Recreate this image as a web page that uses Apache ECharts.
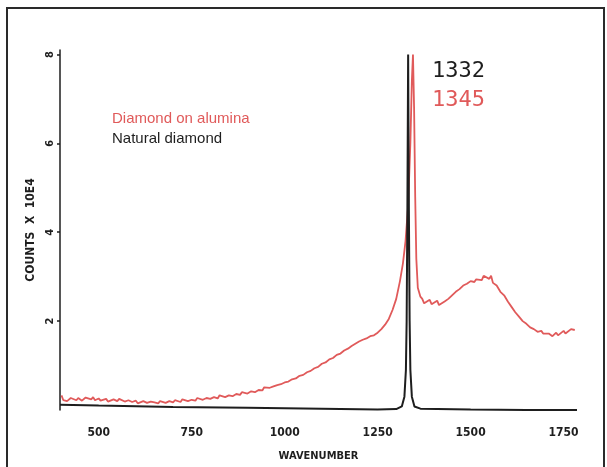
<!DOCTYPE html>
<html>
<head>
<meta charset="utf-8">
<script src="https://cdn.jsdelivr.net/npm/echarts@6/dist/echarts.min.js"></script>
<style>
  html, body { margin: 0; padding: 0; background: #ffffff; }
  #chart { width: 607px; height: 467px; }
</style>
</head>
<body>
<div id="chart"></div>
<script>
// Raman spectra: wavenumber (cm^-1) vs counts (x 1e4)
const seriesNames = ['Diamond on alumina', 'Natural diamond'];
const xTicks = [500, 750, 1000, 1250, 1500, 1750];
const yTicks = [2, 4, 6, 8];
const peakNatural = 1332;
const peakAlumina = 1345;

// Diamond film grown on alumina: broad background, sharp line, G-band hump
const aluminaSpectrum = [
  [400, 0.33], [405, 0.22], [410, 0.24], [415, 0.20], [420, 0.21], [425, 0.27], [430, 0.25], [440, 0.22], [445, 0.27], [450, 0.26],
  [455, 0.21], [460, 0.23], [465, 0.28], [470, 0.27], [480, 0.24], [485, 0.29], [490, 0.22], [500, 0.26], [505, 0.21], [510, 0.23],
  [520, 0.25], [525, 0.19], [530, 0.21], [540, 0.24], [550, 0.20], [555, 0.25], [560, 0.23], [570, 0.19],
  [580, 0.22], [590, 0.18], [600, 0.21], [605, 0.15], [610, 0.17], [620, 0.20], [630, 0.16],
  [640, 0.19], [650, 0.17], [660, 0.15], [665, 0.20], [670, 0.19], [680, 0.16], [690, 0.20],
  [700, 0.17], [705, 0.22], [710, 0.21], [720, 0.18], [725, 0.24], [730, 0.22], [740, 0.20], [750, 0.23],
  [760, 0.21], [765, 0.27], [770, 0.25], [780, 0.23], [790, 0.27], [795, 0.23], [800, 0.25], [810, 0.29],
  [820, 0.26], [825, 0.33], [830, 0.31], [840, 0.29], [850, 0.33], [855, 0.29], [860, 0.31], [870, 0.36],
  [880, 0.34], [885, 0.40], [890, 0.39], [900, 0.37], [910, 0.42], [915, 0.38], [920, 0.40], [930, 0.45],
  [940, 0.44], [945, 0.51], [950, 0.49], [960, 0.50], [970, 0.53], [975, 0.50], [980, 0.56], [990, 0.58],
  [1000, 0.62], [1005, 0.59], [1010, 0.64], [1020, 0.69], [1030, 0.71], [1035, 0.68], [1040, 0.77], [1050, 0.79],
  [1060, 0.85], [1065, 0.82], [1070, 0.88], [1080, 0.94], [1090, 0.97], [1095, 0.94], [1100, 1.04], [1110, 1.07],
  [1120, 1.14], [1125, 1.10], [1130, 1.17], [1140, 1.24], [1150, 1.27], [1155, 1.23], [1160, 1.34], [1170, 1.38],
  [1180, 1.44], [1185, 1.40], [1190, 1.49], [1200, 1.54], [1210, 1.58], [1215, 1.55], [1220, 1.61], [1230, 1.66],
  [1240, 1.68], [1245, 1.66], [1250, 1.74], [1260, 1.82], [1270, 1.92], [1280, 2.05], [1290, 2.25],
  [1300, 2.50], [1310, 2.90], [1318, 3.30], [1325, 3.80], [1332, 4.60], [1338, 6.00],
  [1342, 7.40], [1345, 8.00], [1348, 6.80], [1351, 4.80], [1354, 3.40], [1358, 2.75],
  [1365, 2.55], [1370, 2.50], [1375, 2.40], [1380, 2.42], [1390, 2.48], [1395, 2.38], [1400, 2.40], [1410, 2.46],
  [1415, 2.36], [1420, 2.38], [1430, 2.44], [1435, 2.40], [1440, 2.50], [1450, 2.58], [1455, 2.54], [1460, 2.66], [1470, 2.72],
  [1475, 2.68], [1480, 2.80], [1490, 2.84], [1495, 2.80], [1500, 2.90], [1510, 2.88], [1515, 2.94], [1520, 2.96], [1530, 2.92],
  [1535, 3.02], [1540, 3.00], [1550, 2.95], [1555, 3.02], [1560, 2.86], [1570, 2.80], [1575, 2.84], [1580, 2.66], [1590, 2.58],
  [1595, 2.54], [1600, 2.44], [1610, 2.32], [1615, 2.34], [1620, 2.20], [1630, 2.10], [1635, 2.12], [1640, 2.00], [1650, 1.94],
  [1655, 1.96], [1660, 1.86], [1670, 1.82], [1675, 1.85], [1680, 1.76], [1690, 1.78], [1695, 1.72], [1700, 1.70], [1710, 1.72],
  [1715, 1.68], [1720, 1.66], [1730, 1.74], [1735, 1.68], [1740, 1.70], [1750, 1.78], [1755, 1.72], [1760, 1.74], [1770, 1.82],
  [1775, 1.78], [1780, 1.80]
];

// Natural diamond reference: flat baseline with the single first-order line
const naturalSpectrum = [
  [396, 0.12], [500, 0.10], [700, 0.07], [900, 0.05], [1100, 0.03], [1250, 0.01],
  [1300, 0.02], [1315, 0.08], [1322, 0.30], [1326, 0.90], [1328, 2.00], [1330, 4.50],
  [1332, 8.00], [1334, 4.50], [1336, 2.00], [1338, 0.90], [1342, 0.30], [1349, 0.08],
  [1365, 0.03], [1500, 0.01], [1650, 0.00], [1786, 0.00]
];

const RED = '#e05a5a';
const INK = '#1e1e1e';
const plotterFont = '"DejaVu Sans Condensed", "DejaVu Sans", sans-serif';

const chart = echarts.init(document.getElementById('chart'), null, { renderer: 'canvas' });

chart.setOption({
  backgroundColor: '#ffffff',
  animation: false,
  grid: { left: 60, top: 50, width: 517, height: 368, containLabel: false },
  legend: {
    orient: 'vertical',
    left: 102,
    top: 106,
    itemGap: 5,
    itemWidth: 0,
    itemHeight: 0,
    icon: 'none',
    selectedMode: false,
    textStyle: { fontFamily: '"Liberation Sans", Arial, sans-serif', fontSize: 15 },
    data: [
      { name: seriesNames[0], textStyle: { color: RED } },
      { name: seriesNames[1], textStyle: { color: INK } }
    ]
  },
  xAxis: {
    type: 'value',
    min: 396,
    max: 1786,
    name: 'WAVENUMBER',
    nameLocation: 'middle',
    nameGap: 41,
    nameTextStyle: { fontFamily: plotterFont, fontWeight: 'bold', fontSize: 11, color: INK },
    axisLine: { show: false },
    axisTick: { show: false },
    splitLine: { show: false },
    axisLabel: {
      customValues: xTicks,
      formatter: function (v) { return String(v); },
      margin: 17,
      fontFamily: plotterFont,
      fontWeight: 'bold',
      fontSize: 12,
      color: INK
    }
  },
  yAxis: {
    type: 'value',
    min: 0,
    max: 8.1,
    name: 'COUNTS  X  10E4',
    nameLocation: 'middle',
    nameRotate: 90,
    nameGap: 20,
    nameTextStyle: { fontFamily: plotterFont, fontWeight: 'bold', fontSize: 12, color: INK },
    axisLine: { show: true, lineStyle: { color: INK, width: 1.5 } },
    axisTick: { show: true, customValues: yTicks, length: 3, lineStyle: { color: INK, width: 1.5 } },
    splitLine: { show: false },
    axisLabel: {
      customValues: yTicks,
      rotate: 90,
      margin: 4,
      fontFamily: plotterFont,
      fontWeight: 'bold',
      fontSize: 11,
      color: INK
    }
  },
  series: [
    {
      name: seriesNames[0],
      type: 'line',
      data: aluminaSpectrum,
      showSymbol: false,
      smooth: false,
      clip: true,
      color: RED,
      lineStyle: { color: RED, width: 1.8 },
      z: 2
    },
    {
      name: seriesNames[1],
      type: 'line',
      data: naturalSpectrum,
      showSymbol: false,
      smooth: false,
      clip: true,
      color: INK,
      lineStyle: { color: INK, width: 2 },
      z: 3
    }
  ],
  graphic: [
    {
      type: 'rect',
      shape: { x: 7, y: 8, width: 597, height: 472 },
      style: { fill: 'none', stroke: '#2a2a2a', lineWidth: 2 },
      silent: true
    },
    {
      type: 'text',
      left: 432,
      top: 60,
      style: {
        text: String(peakNatural),
        fill: INK,
        font: '22px "DejaVu Sans Mono", monospace'
      }
    },
    {
      type: 'text',
      left: 432,
      top: 89,
      style: {
        text: String(peakAlumina),
        fill: RED,
        font: '22px "DejaVu Sans Mono", monospace'
      }
    }
  ]
});
</script>
</body>
</html>
